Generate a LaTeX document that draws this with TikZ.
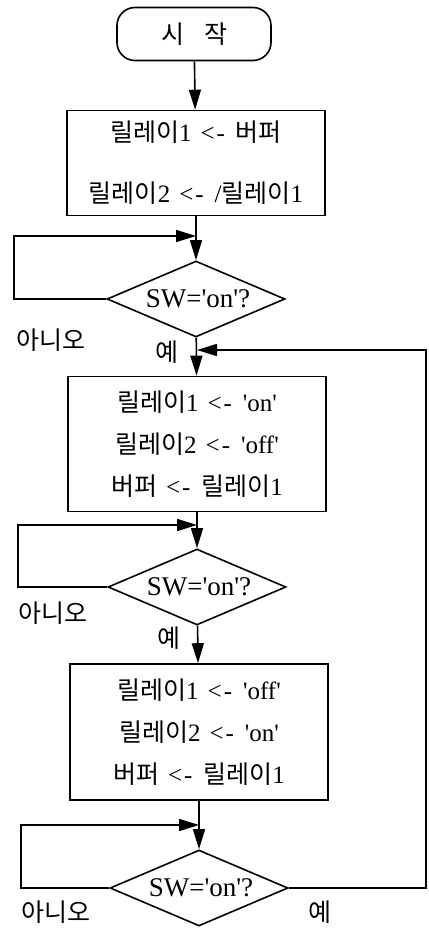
\documentclass[tikz,border=0pt]{standalone}
\usepackage{fontspec}
\setmainfont{Liberation Serif}
\newfontfamily\kr{Noto Sans CJK KR}
\usetikzlibrary{shapes.geometric}
\usetikzlibrary{arrows.meta}

\newcommand{\hg}[1]{{\kr #1}}
\newcommand{\tq}{\textquotesingle}
\newcommand{\getsfrom}{\hspace{9pt}<\hspace{2pt}-\hspace{11pt}}

\begin{document}
\begin{tikzpicture}
[
	x								= 1pt,
	y								= -1pt,
	line width						= 1.6pt,
	%
	% start | stepbox | testbox | answer
	startbox/.style					=
	{
		draw,
		rounded corners				= 18pt,
		minimum width				= 154pt,
		minimum height				= 53pt,
		font						= \kr\fontsize{25}{28}\selectfont
	},
	stepbox/.style					=
	{
		draw,
		minimum width				= 258pt,
		minimum height				= 135pt,
		align						= center,
		font						= \fontsize{25}{42}\selectfont
	},
	testbox/.style					=
	{
		draw,
		diamond,
		aspect						= 2.34,
		minimum width				= 178pt,
		minimum height				= 76pt,
		inner sep					= 0pt,
		font						= \fontsize{27}{30}\selectfont
	},
	answer/.style					=
	{
		font						= \kr\fontsize{25}{27}\selectfont
	},
	flow/.style						= {-{Triangle[width=12pt,length=20pt]}},
]
	\useasboundingbox (0,0) rectangle (428,928);

	\node (start) [startbox] at (194,34) {시\hspace{20pt}작};

	\node (box1) [stepbox, minimum height = 105pt] at (196,163)
		{\hg{릴레이}1\getsfrom\hg{버퍼}\\[19pt]\hg{릴레이}2\getsfrom/\hg{릴레이}1};
	\node (test1) [testbox] at (196,299) {\hspace{4pt}SW=\tq on\tq?};

	\node (box2) [stepbox] at (197,444)
		{\hg{릴레이}1\getsfrom\tq on\tq\\\hg{릴레이}2\getsfrom\tq off\tq\\\hg{버퍼}\getsfrom\hg{릴레이}1};
	\node (test2) [testbox] at (197,587) {\hspace{4pt}SW=\tq on\tq?};

	\node (box3) [stepbox, minimum height = 136pt] at (199,732)
		{\hg{릴레이}1\getsfrom\tq off\tq\\\hg{릴레이}2\getsfrom\tq on\tq\\\hg{버퍼}\getsfrom\hg{릴레이}1};
	\node (test3) [testbox] at (199,888) {\hspace{4pt}SW=\tq on\tq?};

	% answers
	\node (no1)  [answer] at (51,340)  {아니오};
	\node (yes1) [answer] at (167,352) {예};
	\node (no2)  [answer] at (53,613)  {아니오};
	\node (yes2) [answer] at (169,638) {예};
	\node (no3)  [answer] at (56,912)  {아니오};
	\node (yes3) [answer] at (320,912) {예};

	% joins on the main line
	\coordinate (j0) at (box2.north |- 0,350);
	\coordinate (j1) at (box1.south |- 0,236);
	\coordinate (j2) at (box2.south |- 0,525);
	\coordinate (j3) at (box3.south |- 0,825);
	\coordinate (back) at (426,888);

	\draw [flow] (start) -- (box1);
	\draw [flow] (box1) -- (test1);
	\draw [flow] (test1) -- (box2);
	\draw [flow] (box2) -- (test2);
	\draw [flow] (test2) -- (box3);
	\draw [flow] (box3) -- (test3);

	\draw [flow] (test1.west) -| (14,236) -- (j1);
	\draw [flow] (test2.west) -| (18,525) -- (j2);
	\draw [flow] (test3.west) -| (21,825) -- (j3);

	\draw [flow] (test3.east) -- (back) |- (j0);

\end{tikzpicture}
\end{document}
